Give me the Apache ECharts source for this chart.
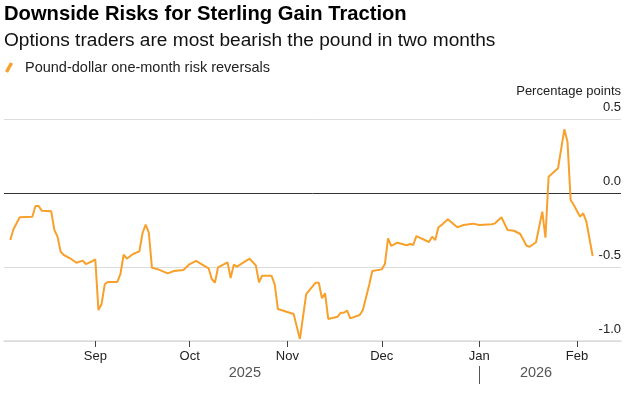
<!DOCTYPE html>
<html><head><meta charset="utf-8">
<script src="https://cdn.jsdelivr.net/npm/echarts@6/dist/echarts.min.js"></script>
<style>html,body{margin:0;padding:0;background:#fff}#c{width:634px;height:394px}</style>
</head><body><div id="c"></div>
<script>
const dates = [
'2025-08-05','2025-08-06','2025-08-08','2025-08-12','2025-08-13','2025-08-14','2025-08-15','2025-08-18','2025-08-19','2025-08-20','2025-08-21','2025-08-22','2025-08-24','2025-08-26','2025-08-28','2025-08-29','2025-08-31',
'2025-09-01','2025-09-02','2025-09-03','2025-09-04','2025-09-05','2025-09-08','2025-09-09','2025-09-10','2025-09-11','2025-09-13','2025-09-15','2025-09-16','2025-09-17','2025-09-18','2025-09-19','2025-09-21','2025-09-24','2025-09-26','2025-09-29',
'2025-10-01','2025-10-03','2025-10-05','2025-10-07','2025-10-08','2025-10-09','2025-10-10','2025-10-13','2025-10-14','2025-10-15','2025-10-16','2025-10-20','2025-10-22','2025-10-23','2025-10-24','2025-10-27','2025-10-28','2025-10-29','2025-10-31',
'2025-11-03','2025-11-05','2025-11-07','2025-11-10','2025-11-11','2025-11-12','2025-11-13','2025-11-14','2025-11-17','2025-11-18','2025-11-19','2025-11-20','2025-11-21','2025-11-24','2025-11-25','2025-11-27','2025-11-28',
'2025-12-01','2025-12-02','2025-12-03','2025-12-04','2025-12-06','2025-12-09','2025-12-10','2025-12-11','2025-12-12','2025-12-16','2025-12-17','2025-12-18','2025-12-19','2025-12-20','2025-12-22','2025-12-25','2025-12-27','2025-12-30',
'2026-01-01','2026-01-05','2026-01-06','2026-01-08','2026-01-10','2026-01-12','2026-01-14','2026-01-16','2026-01-17','2026-01-19','2026-01-21','2026-01-22','2026-01-23','2026-01-26','2026-01-28','2026-01-29','2026-01-30','2026-01-31',
'2026-02-02','2026-02-03','2026-02-04','2026-02-06'
];
const values = [
-0.318,-0.245,-0.164,-0.160,-0.088,-0.088,-0.120,-0.124,-0.250,-0.295,-0.397,-0.419,-0.441,-0.471,-0.457,-0.480,-0.461,
-0.448,-0.791,-0.750,-0.617,-0.601,-0.601,-0.547,-0.417,-0.444,-0.412,-0.394,-0.272,-0.214,-0.268,-0.505,-0.516,-0.543,-0.527,-0.520,
-0.480,-0.459,-0.484,-0.509,-0.581,-0.606,-0.502,-0.468,-0.574,-0.484,-0.498,-0.444,-0.489,-0.603,-0.559,-0.559,-0.617,-0.784,-0.797,
-0.818,-0.986,-0.684,-0.606,-0.606,-0.711,-0.678,-0.851,-0.836,-0.809,-0.809,-0.795,-0.847,-0.824,-0.791,-0.622,-0.527,
-0.516,-0.480,-0.306,-0.358,-0.336,-0.353,-0.345,-0.351,-0.291,-0.331,-0.295,-0.318,-0.232,-0.216,-0.178,-0.232,-0.216,-0.207,
-0.216,-0.211,-0.205,-0.164,-0.250,-0.255,-0.277,-0.356,-0.363,-0.333,-0.126,-0.302,0.110,0.167,0.430,0.347,-0.047,-0.081,
-0.160,-0.137,-0.194,-0.426
];
const monthTicks = ['2025-09-01','2025-10-01','2025-11-01','2025-12-01','2026-01-01','2026-02-01'];
const monthLabels = ['Sep','Oct','Nov','Dec','Jan','Feb'];
const yearLabels = ['2025','2026'];
const yearBreak = '2026-01-01';
const axisStart = '2025-08-03', axisEnd = '2026-02-15';
const seriesName = 'Pound-dollar one-month risk reversals';

function ts(s){const p=s.split('-');return Date.UTC(+p[0],+p[1]-1,+p[2]);}
const data = dates.map((d,i)=>[ts(d), values[i]]);
const tickTs = monthTicks.map(ts);
const FONT = '"Liberation Sans", Arial, Helvetica, sans-serif';
const ORANGE = '#f7a02b';

const chart = echarts.init(document.getElementById('c'), null, {renderer:'canvas'});
chart.setOption({
  animation:false,
  textStyle:{fontFamily:FONT},
  title:[
    {text:'Downside Risks for Sterling Gain Traction', left:4, top:4, padding:0,
     textStyle:{fontSize:20.2, fontWeight:'bold', color:'#000', fontFamily:FONT}},
    {text:'Options traders are most bearish the pound in two months', left:4, top:31, padding:0,
     textStyle:{fontSize:19.1, fontWeight:'normal', color:'#111', fontFamily:FONT}}
  ],
  legend:{left:5, top:60, padding:0, itemWidth:8, itemHeight:11,
    icon:'path://M0,9 L5,0 L8,1.6 L3,10.6 Z',
    itemStyle:{color:ORANGE},
    textStyle:{fontSize:14.5, color:'#222', fontFamily:FONT, padding:[0,0,0,7]},
    data:[{name:seriesName}], selectedMode:false},
  grid:{left:4, right:13, top:119, bottom:53, containLabel:false, outerBoundsMode:'none'},
  xAxis:{type:'value', min:ts(axisStart), max:ts(axisEnd), scale:true,
    axisLine:{show:true, onZero:false, lineStyle:{color:'#dcdcdc', width:1.5}},
    axisTick:{show:true, customValues:tickTs, length:6, lineStyle:{color:'#444', width:1}},
    axisLabel:{customValues:tickTs, margin:9, fontSize:13, color:'#222', fontFamily:FONT, hideOverlap:false,
      showMinLabel:true, showMaxLabel:true,
      formatter:function(v){const i=tickTs.indexOf(v);return i>=0?monthLabels[i]:'';}},
    splitLine:{show:false}},
  yAxis:{type:'value', position:'right', min:-1, max:0.5, interval:0.5,
    axisLine:{show:false}, axisTick:{show:false},
    axisLabel:{inside:true, margin:0, verticalAlign:'bottom', padding:[0,0,5,0], fontSize:13, color:'#222', fontFamily:FONT,
      formatter:function(v){return v.toFixed(1);}},
    splitLine:{show:true, lineStyle:{color:['#dcdcdc','#dcdcdc','#333333','#dcdcdc'], width:1}},
    name:'Percentage points', nameLocation:'end', nameGap:21,
    nameTextStyle:{align:'right', verticalAlign:'bottom', fontSize:13, color:'#222', fontFamily:FONT}},
  series:[{type:'line', name:seriesName, data:data, symbol:'none', showSymbol:false,
    lineStyle:{color:ORANGE, width:2}, itemStyle:{color:ORANGE}, z:3}]
});

// year labels centred on each year's span of data, with a separator at the year break
const firstT = data[0][0], lastT = data[data.length-1][0], breakT = ts(yearBreak);
const px = t => chart.convertToPixel({xAxisIndex:0}, t);
const yearCenters = [(px(firstT)+px(breakT))/2, (px(breakT)+px(lastT))/2];
const graphics = yearLabels.map((lab,i)=>({type:'text', x:yearCenters[i], y:373,
  style:{text:lab, fill:'#555', font:'14.5px '+FONT, textAlign:'center', textVerticalAlign:'middle'}}));
graphics.push({type:'line', shape:{x1:Math.round(px(breakT))+0.5, y1:366, x2:Math.round(px(breakT))+0.5, y2:384},
  style:{stroke:'#555', lineWidth:1}});
chart.setOption({graphic:graphics});
</script></body></html>
